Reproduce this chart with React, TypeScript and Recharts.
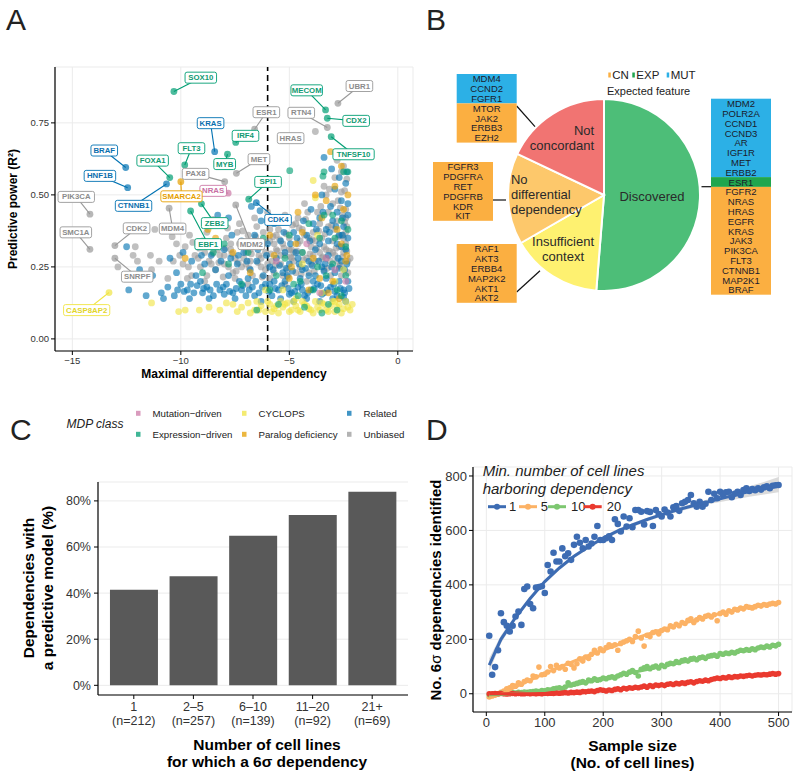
import React from 'react';
import {
  ScatterChart, Scatter, XAxis, YAxis, CartesianGrid, ReferenceLine,
  BarChart, Bar, PieChart, Pie, Cell,
} from 'recharts';

const FONT = '"Liberation Sans", Arial, Helvetica, sans-serif';
const MINUS = '\u2212';

// ---------------- Panel A data ----------------
const mdpClasses = [`Mutation${MINUS}driven`, `Expression${MINUS}driven`, 'CYCLOPS', 'Paralog deficiency', 'Related', 'Unbiased'];
const mdpColors = ['#CC79A7', '#009E73', '#F0E442', '#E69F00', '#0072B2', '#999999'];
const mdpTextColors = ['#C86FA3', '#109A72', '#E2D52A', '#E69F00', '#0B6FAE', '#8C8C8C'];
const dependencyCutoff = -6;

const relatedPts = [
  [-12.5,.32],[-11.9,.24],[-12.4,.17],[-11.3,.22],[-10.9,.16],[-10.6,.18],[-10.3,.15],[-10.0,.19],[-9.7,.17],[-9.4,.16],
  [-9.1,.20],[-8.8,.18],[-8.5,.15],[-8.2,.17],[-7.9,.19],[-7.6,.16],[-7.3,.20],[-7.0,.15],[-6.7,.18],[-6.4,.16],
  [-6.1,.19],[-5.8,.15],[-5.5,.17],[-5.2,.20],[-4.9,.16],[-4.6,.18],[-4.3,.15],[-4.0,.17],[-3.7,.19],[-3.4,.16],
  [-3.1,.18],[-2.8,.15],[-2.5,.17],[-2.3,.20],[-10.5,.28],[-9.9,.30],[-9.5,.27],[-9.2,.32],[-8.9,.26],[-8.6,.29],
  [-8.3,.43],[-8.0,.31],[-7.7,.28],[-7.8,.42],[-7.4,.26],[-7.1,.30],[-6.8,.24],[-6.5,.27],[-6.2,.22],[-5.9,.25],
  [-5.6,.28],[-5.3,.23],[-5.0,.26],[-4.7,.30],[-4.4,.24],[-4.1,.27],[-3.8,.22],[-3.5,.25],[-3.2,.29],[-2.9,.23],
  [-2.6,.27],[-2.4,.31],[-4.2,.36],[-3.9,.40],[-3.6,.42],[-3.3,.38],[-3.0,.41],[-2.7,.36],[-2.5,.39],[-2.3,.43],
  [-2.4,.54],[-3.4,.63],[-4.8,.37],[-5.4,.34],[-6.0,.33],[-6.6,.36],[-7.2,.34],[-3.6,.33],[-2.8,.33],[-2.3,.35],
  [-3.1,.46],[-2.6,.48],[-2.9,.52],[-5.7,.20],[-5.1,.22],[-4.5,.21],[-3.9,.20],[-3.3,.21],[-2.7,.20],[-4.8,.13],
  [-4.2,.14],[-3.6,.13],[-3.0,.14],[-2.4,.13],[-5.4,.14],[-6.3,.13],[-7.5,.14],[-8.7,.14],[-9.6,.14],[-10.8,.14],
  [-3.8,.31],[-3.2,.34],[-2.6,.32],[-4.6,.28],[-5.2,.30],[-6.9,.21],[-7.8,.22],[-8.4,.24],[-9.3,.22],[-10.2,.23],
  [-4.0,.45],[-3.5,.50],[-2.8,.44],[-6.3,.41],[-5.7,.40],[-4.4,.17],[-3.5,.155],[-2.9,.165],[-2.5,.145],[-5.0,.155],
  [-6.6,.15],[-7.2,.17],[-8.0,.155],[-9.0,.16],[-11.6,.15],[-4.1,.22],[-3.4,.235],[-2.7,.245],[-2.35,.26],[-5.9,.19],
  [-5.95,.165],[-5.65,.175],[-5.35,.185],[-5.05,.175],[-4.75,.165],[-4.45,.19],[-4.15,.16],[-3.85,.175],[-3.55,.185],[-3.25,.17],
  [-2.95,.19],[-2.65,.175],[-2.45,.16],[-2.25,.175],[-6.25,.18],[-6.55,.20],[-6.85,.17],[-7.15,.185],[-7.45,.175],[-7.75,.165],
  [-8.05,.18],[-8.35,.19],[-8.65,.17],[-8.95,.175],[-9.25,.185],[-9.55,.19],[-9.85,.165],[-10.15,.17],[-5.75,.24],[-5.45,.255],
  [-5.15,.245],[-4.85,.235],[-4.55,.26],[-4.25,.245],[-3.95,.255],[-3.65,.27],[-3.35,.26],[-3.05,.25],[-2.75,.28],[-2.45,.24],
  [-2.55,.36],[-2.85,.39],[-3.15,.37],[-3.45,.44],[-3.75,.38],[-4.05,.34],[-4.35,.41],[-4.65,.35],[-4.95,.33],[-5.25,.37],
  [-6.05,.29],[-6.45,.31],[-6.95,.27],[-7.35,.29],[-7.65,.36],[-8.15,.27],[-8.65,.33],[-9.05,.29],[-2.3,.47],[-2.55,.42],
  [-6.75,.46],[-6.35,.445],[-2.7,.56],[-3.05,.59],[-2.35,.58],
];

const unbiasedPts = [
  [-12.9,.25],[-12.1,.32],[-12.2,.29],[-12.0,.27],[-11.4,.29],[-11.2,.38],[-10.8,.38],[-11.35,.24],[-10.35,.27],[-10.05,.29],
  [-9.8,.32],[-9.9,.26],[-9.65,.25],[-9.35,.29],[-9.1,.25],[-9.5,.22],[-10.6,.21],[-11.0,.27],[-10.2,.33],[-8.9,.30],
  [-8.7,.27],[-8.5,.33],[-8.4,.24],[-8.2,.29],[-8.0,.26],[-7.9,.35],[-7.7,.31],[-7.6,.23],[-7.5,.28],[-7.3,.33],
  [-7.2,.25],[-7.0,.30],[-6.9,.36],[-6.8,.27],[-6.7,.22],[-6.5,.32],[-6.4,.29],[-6.3,.25],[-6.2,.37],[-6.1,.30],
  [-5.9,.34],[-5.8,.27],[-5.7,.23],[-5.6,.31],[-5.5,.38],[-5.4,.26],[-5.3,.33],[-5.2,.29],[-5.1,.24],[-5.0,.35],
  [-4.9,.31],[-4.8,.27],[-4.7,.40],[-4.6,.33],[-4.5,.25],[-4.4,.30],[-4.3,.36],[-4.2,.28],[-4.1,.23],[-4.0,.32],
  [-3.9,.37],[-3.8,.27],[-3.7,.44],[-3.6,.30],[-3.5,.35],[-3.4,.24],[-3.3,.31],[-3.2,.39],[-3.1,.27],[-3.0,.34],
  [-2.9,.29],[-2.8,.41],[-2.7,.25],[-2.6,.36],[-2.5,.30],[-2.4,.33],[-2.3,.27],[-2.2,.28],[-8.8,.22],[-8.3,.31],
  [-7.8,.25],[-7.4,.37],[-7.1,.28],[-6.6,.34],[-6.0,.26],[-5.6,.36],[-5.3,.22],[-4.9,.28],[-4.4,.38],[-4.0,.26],
  [-3.6,.40],[-3.3,.28],[-3.0,.30],[-2.7,.32],[-2.4,.37],[-2.6,.22],[-3.8,.34],[-4.7,.23],[-5.9,.21],[-6.8,.31],
  [-7.7,.33],[-8.6,.26],[-6.0,.44],[-5.5,.41],[-4.3,.47],[-3.4,.53],[-3.3,.50],[-2.9,.56],[-2.6,.58],[-2.5,.60],
  [-2.8,.62],[-2.6,.51],[-3.0,.47],[-2.4,.45],[-3.8,.72],[-2.4,.42],[-5.9,.38],[-6.5,.39],[-7.3,.40],[-8.1,.40],
  [-8.8,.37],[-6.9,.19],[-5.2,.19],[-4.2,.20],[-3.1,.22],[-2.3,.23],[-7.5,.21],[-8.9,.20],[-9.7,.21],[-5.0,.31],
  [-4.5,.34],[-3.9,.29],[-3.4,.32],[-2.9,.38],[-2.5,.35],[-6.3,.28],[-5.7,.33],[-7.0,.26],[-8.0,.29],[-9.2,.28],
  [-2.8,.27],[-3.5,.28],[-4.1,.35],[-4.8,.30],[-5.4,.29],[-6.1,.24],[-2.35,.39],[-2.55,.43],[-3.2,.44],[-4.6,.42],
  [-5.85,.295],[-5.55,.305],[-5.25,.315],[-4.95,.285],[-4.65,.305],[-4.35,.275],[-4.05,.295],[-3.75,.315],[-3.45,.285],[-3.15,.305],
  [-2.85,.315],[-2.55,.285],[-2.35,.305],[-6.15,.335],[-6.45,.265],[-6.75,.295],[-7.05,.325],[-7.35,.265],[-7.65,.295],[-7.95,.315],
  [-8.25,.265],[-8.55,.295],[-8.85,.325],[-9.15,.315],[-9.45,.335],[-5.75,.355],[-5.15,.365],[-4.55,.385],[-3.95,.345],[-3.35,.365],
  [-2.75,.355],[-2.45,.405],[-3.05,.395],[-3.65,.375],[-4.25,.415],[-4.85,.395],[-5.45,.345],[-6.55,.355],[-7.15,.375],[-7.85,.385],
  [-2.65,.255],[-3.25,.245],[-3.85,.235],[-4.45,.225],[-5.05,.215],[-5.65,.255],[-6.25,.215],[-6.85,.245],[-7.45,.235],[-8.05,.215],
  [-2.45,.515],[-2.75,.48],[-3.15,.52],[-2.35,.555],[-2.65,.455],[-3.55,.46],[-4.15,.44],[-5.2,.43],[-6.6,.42],[-9.0,.34],
  [-9.6,.36],[-10.4,.355],[-8.5,.415],
];

const cyclopsPts = [
  [-11.35,.125],[-10.1,.095],[-9.8,.10],[-9.15,.10],[-8.7,.11],[-8.2,.10],[-7.6,.12],[-7.2,.11],[-6.9,.125],[-6.6,.10],
  [-6.3,.115],[-6.1,.095],[-5.9,.12],[-5.7,.105],[-5.5,.09],[-5.3,.11],[-5.1,.125],[-4.9,.10],[-4.7,.115],[-4.5,.095],
  [-4.3,.12],[-4.1,.105],[-3.9,.09],[-3.7,.11],[-3.5,.125],[-3.3,.10],[-3.1,.115],[-2.9,.095],[-2.7,.12],[-2.5,.105],
  [-2.3,.11],[-2.1,.12],[-2.2,.10],[-2.4,.13],[-2.6,.09],[-2.8,.11],[-3.0,.13],[-3.2,.095],[-3.4,.12],[-3.6,.10],
  [-3.8,.13],[-4.0,.10],[-4.2,.115],[-4.4,.13],[-4.6,.10],[-4.8,.13],[-5.0,.095],[-5.2,.12],[-5.4,.13],[-5.6,.115],
  [-6.0,.13],[-6.4,.10],[-6.8,.09],[-7.4,.095],[-7.9,.125],[-3.5,.16],[-2.9,.20],[-3.8,.49],[-4.4,.26],[-5.3,.17],
  [-6.1,.17],[-2.5,.24],[-3.7,.36],[-3.9,.55],[-2.9,.13],[-4.7,.14],[-6.5,.13],[-5.8,.095],
];

const paralogPts = [
  [-3.1,.65],[-2.6,.60],[-3.3,.48],[-3.5,.42],[-2.5,.45],[-2.8,.38],[-4.4,.37],[-4.7,.33],[-3.9,.28],[-5.7,.29],
  [-6.3,.32],[-7.6,.30],[-8.4,.35],[-9.8,.28],[-2.4,.27],[-3.0,.20],[-5.0,.21],[-6.8,.23],[-4.1,.17],[-2.7,.14],
  [-8.75,.38],[-2.3,.50],[-4.6,.44],[-3.6,.21],[-2.9,.53],[-3.8,.50],[-2.6,.33],[-4.9,.25],[-3.2,.16],[-5.9,.36],
  [-2.35,.29],
];

const expressionPts = [
  [-4.98,.584],[-3.4,.58],[-2.5,.58],[-3.0,.43],[-2.4,.32],[-3.6,.35],[-4.4,.30],[-5.6,.22],[-6.9,.30],[-7.8,.26],
  [-4.8,.19],[-3.9,.17],[-3.2,.12],[-2.8,.10],[-4.3,.11],[-5.5,.12],[-6.5,.10],[-2.4,.22],[-3.7,.25],[-5.2,.28],
  [-6.2,.35],[-2.6,.15],[-4.1,.40],[-3.3,.22],[-5.9,.17],[-7.2,.19],[-8.5,.30],[-2.9,.35],[-4.6,.15],[-3.5,.09],
  [-2.3,.38],[-9.0,.23],[-8.0,.33],[-3.4,.43],[-2.6,.41],[-3.0,.26],[-4.5,.20],[-2.3,.58],[-3.45,.565],[-2.8,.17],
  [-5.0,.36],
];

const mutationPts = [
  [-3.3,.28],[-2.9,.24],[-2.4,.20],[-4.2,.33],[-3.6,.16],[-5.6,.27],
];

// [gene, class index, point x, point y, label x, label y]
const labeledGenes: [string, number, number, number, number, number][] = [
  ['SOX10', 1, -10.32, 0.859, -9.08, 0.907],
  ['UBR1', 5, -2.76, 0.818, -1.77, 0.878],
  ['MECOM', 1, -3.33, 0.795, -4.20, 0.863],
  ['ESR1', 5, -6.60, 0.728, -6.06, 0.787],
  ['RTN4', 5, -3.25, 0.734, -4.45, 0.785],
  ['CDX2', 1, -3.25, 0.766, -1.92, 0.757],
  ['KRAS', 4, -8.44, 0.650, -8.63, 0.749],
  ['IRF4', 1, -7.47, 0.682, -7.02, 0.705],
  ['HRAS', 5, -4.94, 0.697, -4.94, 0.697],
  ['BRAF', 4, -12.54, 0.595, -13.53, 0.654],
  ['FLT3', 1, -9.82, 0.604, -9.51, 0.662],
  ['TNFSF10', 1, -3.07, 0.702, -2.04, 0.641],
  ['FOXA1', 1, -10.51, 0.560, -11.30, 0.619],
  ['MYB', 1, -7.85, 0.641, -7.98, 0.607],
  ['MET', 5, -7.44, 0.575, -6.40, 0.624],
  ['HNF1B', 4, -12.45, 0.525, -13.73, 0.566],
  ['PAX8', 5, -7.98, 0.546, -9.32, 0.573],
  ['SPI1', 1, -6.87, 0.485, -5.98, 0.545],
  ['NRAS', 0, -7.82, 0.506, -8.51, 0.514],
  ['PIK3CA', 5, -14.19, 0.433, -14.82, 0.493],
  ['SMARCA2', 3, -10.0, 0.546, -9.97, 0.495],
  ['CTNNB1', 4, -10.66, 0.538, -12.18, 0.462],
  ['CDK4', 4, -6.52, 0.473, -5.52, 0.413],
  ['ZEB2', 1, -9.05, 0.469, -8.44, 0.402],
  ['SMC1A', 5, -14.19, 0.311, -14.84, 0.370],
  ['CDK2', 5, -13.04, 0.324, -12.04, 0.384],
  ['MDM4', 5, -10.54, 0.454, -10.38, 0.383],
  ['EBF1', 1, -9.55, 0.444, -8.74, 0.329],
  ['MDM2', 5, -7.47, 0.465, -6.75, 0.329],
  ['SNRPF', 5, -13.04, 0.280, -12.01, 0.216],
  ['CASP8AP2', 2, -13.31, 0.161, -14.34, 0.100],
];

// ---------------- Panel B data ----------------
const pieNames = ['Discovered', 'Insufficient context', 'No differential dependency', 'Not concordant'];
const pieCounts = [20, 6, 6, 7];
const pieColors = ['#4DBE78', '#FEF170', '#FDC86B', '#F17472'];
const pieLabelLines = [['Discovered'], ['Insufficient', 'context'], ['No', 'differential', 'dependency'], ['Not', 'concordant']];
const featureNames = ['CN', 'EXP', 'MUT'];
const featureColors = ['#FBAF41', '#20A64E', '#2CB0E6'];

const notConcordantMut = ['MDM4', 'CCND2', 'FGFR1'];
const notConcordantCn = ['MTOR', 'JAK2', 'ERBB3', 'EZH2'];
const noDiffCn = ['FGFR3', 'PDGFRA', 'RET', 'PDGFRB', 'KDR', 'KIT'];
const insufficientCn = ['RAF1', 'AKT3', 'ERBB4', 'MAP2K2', 'AKT1', 'AKT2'];
const discoveredMut = ['MDM2', 'POLR2A', 'CCND1', 'CCND3', 'AR', 'IGF1R', 'MET', 'ERBB2'];
const discoveredExp = ['ESR1'];
const discoveredCn = ['FGFR2', 'NRAS', 'HRAS', 'EGFR', 'KRAS', 'JAK3', 'PIK3CA', 'FLT3', 'CTNNB1', 'MAP2K1', 'BRAF'];

// ---------------- Panel C data ----------------
const cellLineBins = ['1', '2\u20135', '6\u201310', '11\u201320', '21+'];
const binCounts = ['n=212', 'n=257', 'n=139', 'n=92', 'n=69'];
const pctPredictive = [41.5, 47.3, 64.9, 73.9, 84.0];

// ---------------- Panel D data ----------------
const sampleSizes = [
  5, 10, 15, 20, 25, 30, 35, 40, 45, 50, 55, 60, 65, 70, 75, 80, 85, 90, 95, 100,
  105, 110, 115, 120, 125, 130, 135, 140, 145, 150, 155, 160, 165, 170, 175, 180, 185, 190, 195, 200,
  205, 210, 215, 220, 225, 230, 235, 240, 245, 250, 255, 260, 265, 270, 275, 280, 285, 290, 295, 300,
  305, 310, 315, 320, 325, 330, 335, 340, 345, 350, 355, 360, 365, 370, 375, 380, 385, 390, 395, 400,
  405, 410, 415, 420, 425, 430, 435, 440, 445, 450, 455, 460, 465, 470, 475, 480, 485, 490, 495, 500,
];
const min1Counts = [
  213, 70, 98, 160, 296, 263, 250, 229, 250, 284, 302, 253, 385, 394, 330, 314, 390, 392, 395, 370,
  473, 449, 518, 486, 486, 534, 505, 516, 492, 547, 577, 555, 534, 565, 541, 552, 577, 616, 565, 565,
  571, 578, 565, 641, 624, 596, 651, 614, 645, 612, 675, 675, 669, 622, 671, 668, 616, 675, 660, 651,
  677, 666, 651, 685, 690, 672, 700, 705, 712, 730, 700, 687, 705, 687, 698, 742, 712, 735, 718, 742,
  730, 740, 742, 722, 735, 742, 730, 748, 755, 745, 752, 748, 755, 750, 758, 762, 755, 764, 766, 767,
];
const min5Counts = [
  -12, -8, -5, 0, 5, 10, 18, 22, 30, 28, 40, 35, 45, 50, 48, 65, 62, 98, 70, 72,
  80, 100, 85, 105, 95, 100, 90, 112, 108, 95, 110, 128, 120, 135, 130, 145, 160, 150, 165, 158,
  170, 180, 175, 180, 160, 185, 190, 195, 200, 192, 210, 230, 205, 175, 215, 210, 225, 228, 220, 232,
  238, 235, 250, 245, 255, 250, 262, 258, 270, 275, 262, 272, 280, 275, 285, 288, 282, 290, 268, 295,
  300, 292, 305, 300, 310, 308, 315, 312, 320, 318, 315, 320, 325, 322, 328, 325, 330, 332, 330, 335,
];
const min10Counts = [
  -3, -2, 0, 0, 2, 1, 3, 2, 4, 3, 5, 4, 6, 5, 7, 8, 10, 8, 12, 11,
  15, 14, 18, 20, 22, 18, 25, 40, 32, 35, 38, 42, 45, 40, 50, 48, 55, 50, 52, 58,
  55, 60, 62, 58, 65, 70, 75, 72, 80, 85, 78, 65, 90, 95, 100, 92, 98, 102, 95, 105,
  100, 108, 112, 110, 118, 115, 122, 125, 120, 128, 130, 125, 132, 135, 130, 138, 140, 142, 138, 148,
  145, 150, 148, 152, 150, 155, 160, 158, 162, 160, 165, 162, 168, 172, 170, 175, 172, 178, 176, 182,
];
const min20Counts = [
  0, 0, 1, 0, 1, 0, -1, 0, 1, 0, 1, 0, 0, 1, 0, 1, 0, 1, 0, 2,
  1, 2, 1, 3, 2, 3, 4, 3, 5, 4, 6, 5, 8, 7, 9, 10, 8, 12, 15, 13,
  10, 14, 12, 16, 18, 15, 20, 18, 22, 20, 24, 22, 25, 28, 24, 30, 27, 32, 30, 33,
  30, 35, 37, 34, 38, 36, 40, 38, 42, 44, 40, 45, 48, 46, 50, 48, 52, 55, 58, 56,
  60, 58, 62, 60, 63, 62, 65, 64, 66, 68, 65, 68, 70, 69, 71, 70, 72, 74, 72, 74,
];
const fitSizes = [5, 25, 50, 75, 100, 125, 150, 175, 200, 225, 250, 275, 300, 325, 350, 375, 400, 425, 450, 475, 500];
const min1Fit = [105, 200, 280, 350, 412, 462, 505, 540, 572, 598, 620, 640, 658, 674, 689, 703, 716, 730, 743, 755, 768];
const min1FitLo = [80, 186, 271, 342, 405, 455, 498, 533, 565, 591, 613, 633, 651, 667, 681, 694, 704, 714, 724, 732, 740];
const min1FitHi = [130, 214, 289, 358, 419, 469, 512, 547, 579, 605, 627, 647, 665, 681, 697, 712, 728, 746, 762, 778, 796];
const min5Fit = [-12, -2, 25, 50, 75, 98, 120, 141, 160, 180, 200, 218, 235, 251, 266, 281, 295, 308, 319, 328, 335];
const min10Fit = [-4, -3, 2, 6, 12, 20, 32, 43, 55, 66, 78, 89, 100, 111, 122, 133, 143, 153, 162, 171, 180];
const min20Fit = [0, 0, 0, 0, 1, 2, 5, 8, 12, 17, 22, 28, 33, 39, 44, 50, 56, 61, 66, 70, 74];
const thresholdNames = ['1', '5', '10', '20'];
const thresholdColors = ['#3D6CB3', '#FCB265', '#7DC770', '#EA3A2F'];

// ---------------- helpers ----------------
const toXY = (arr: number[][]) => arr.map(([x, y]) => ({ x, y }));
const Empty = () => <g />;
const dot = (color: string, r: number, op: number) => (p: any) => (
  <circle cx={p.cx} cy={p.cy} r={r} fill={color} fillOpacity={op} />
);

function GeneLabel(p: any) {
  const { cx, cy, payload } = p;
  const g: string = payload.gene;
  const c: number = payload.c;
  const w = g.length * 4.9 + 7;
  const h = 11;
  return (
    <g>
      <rect x={cx - w / 2} y={cy - h / 2} width={w} height={h} rx={2} ry={2} fill="#fff" stroke={mdpColors[c]} strokeWidth={0.9} />
      <text x={cx} y={cy} textAnchor="middle" dominantBaseline="central" fontSize={7.8} fontWeight="bold" fill={mdpTextColors[c]}>{g}</text>
    </g>
  );
}

const axisLineStyle = { stroke: '#000', strokeWidth: 1.2 };
const tickLineStyle = { stroke: '#000', strokeWidth: 1 };

function PanelA() {
  const groups = [
    { pts: unbiasedPts, c: 5 },
    { pts: relatedPts, c: 4 },
    { pts: cyclopsPts, c: 2 },
    { pts: paralogPts, c: 3 },
    { pts: expressionPts, c: 1 },
    { pts: mutationPts, c: 0 },
  ];
  const labeledPoints = labeledGenes.map(([gene, c, x, y]) => ({ gene, c, x, y }));
  const labelBoxes = labeledGenes.map(([gene, c, , , lx, ly]) => ({ gene, c, x: lx, y: ly }));
  return (
    <ScatterChart width={420} height={380} margin={{ top: 67, right: 7, bottom: 9, left: 0 }}>
      <CartesianGrid stroke="#EBEBEB" />
      <XAxis type="number" dataKey="x" domain={[-15.8, 0.7]} ticks={[-15, -10, -5, 0]} allowDataOverflow
        height={20} tickSize={4} axisLine={axisLineStyle} tickLine={tickLineStyle}
        tick={{ fontSize: 9.5, fill: '#333' }} tickFormatter={(v: number) => String(v).replace('-', MINUS)} />
      <YAxis type="number" dataKey="y" domain={[-0.042, 0.944]} ticks={[0, 0.25, 0.5, 0.75]} allowDataOverflow
        width={55} tickSize={4} axisLine={axisLineStyle} tickLine={tickLineStyle}
        tick={{ fontSize: 9.5, fill: '#333' }} tickFormatter={(v: number) => v.toFixed(2)} />
      {groups.map((g, i) => (
        <Scatter key={'g' + i} data={toXY(g.pts)} fill={mdpColors[g.c]} shape={dot(mdpColors[g.c], 3.4, 0.62)} isAnimationActive={false} />
      ))}
      <Scatter data={labeledPoints} fill="#999" isAnimationActive={false}
        shape={(p: any) => <circle cx={p.cx} cy={p.cy} r={3.4} fill={mdpColors[p.payload.c]} fillOpacity={0.7} />} />
      <ReferenceLine x={dependencyCutoff} stroke="#000" strokeWidth={1.6} strokeDasharray="6 4" />
      {labeledGenes.map(([gene, c, x, y, lx, ly]) => (
        <Scatter key={'s' + gene} data={[{ x, y }, { x: lx, y: ly }]} fill={mdpColors[c]}
          line={{ stroke: mdpColors[c], strokeWidth: 1.1 }} lineType="joint" shape={Empty} isAnimationActive={false} />
      ))}
      <Scatter data={labelBoxes} fill="#fff" shape={GeneLabel} isAnimationActive={false} />
    </ScatterChart>
  );
}

function PanelB() {
  const data = pieNames.map((name, i) => ({ name, value: pieCounts[i] }));
  const cfg = [
    { r: 0.5, anchor: 'middle', dx: 0, dy: 0 },
    { r: 0.7, anchor: 'middle', dx: -5, dy: -3 },
    { r: 0.97, anchor: 'start', dx: 0, dy: -4.5 },
    { r: 0.68, anchor: 'end', dx: 25, dy: -2 },
  ];
  const RAD = Math.PI / 180;
  const renderLabel = (p: any) => {
    const { cx, cy, midAngle, outerRadius, index } = p;
    const c = cfg[index];
    const rr = outerRadius * c.r;
    const x = cx + rr * Math.cos(-midAngle * RAD) + c.dx;
    const y = cy + rr * Math.sin(-midAngle * RAD) + c.dy;
    const lines = pieLabelLines[index];
    return (
      <g>
        {lines.map((t, i) => (
          <text key={t} x={x} y={y + (i - (lines.length - 1) / 2) * 14.8} textAnchor={c.anchor}
            dominantBaseline="central" fontSize={13} fill="#2a2a2a">{t}</text>
        ))}
      </g>
    );
  };
  return (
    <PieChart width={380} height={330} margin={{ top: 0, right: 0, bottom: 0, left: 0 }}>
      <Pie data={data} dataKey="value" nameKey="name" cx={184} cy={195} outerRadius={96}
        startAngle={90} endAngle={-270} stroke="#fff" strokeWidth={2}
        isAnimationActive={false} label={renderLabel} labelLine={false}>
        {data.map((d, i) => <Cell key={d.name} fill={pieColors[i]} />)}
      </Pie>
    </PieChart>
  );
}

function BinTick(p: any) {
  const { x, y, payload } = p;
  const idx = cellLineBins.indexOf(payload.value);
  return (
    <g>
      <text x={x} y={y + 10} textAnchor="middle" fontSize={12.5} fill="#333">{payload.value}</text>
      <text x={x} y={y + 24} textAnchor="middle" fontSize={12.5} fill="#333">({binCounts[idx]})</text>
    </g>
  );
}

function PanelC() {
  const data = cellLineBins.map((bin, i) => ({ bin, pct: pctPredictive[i] }));
  return (
    <BarChart width={420} height={318} data={data} margin={{ top: 22, right: 12, bottom: 48, left: 0 }} barCategoryGap="10%">
      <CartesianGrid stroke="#EBEBEB" vertical={false} />
      <XAxis dataKey="bin" height={35} tickSize={4} axisLine={axisLineStyle} tickLine={tickLineStyle}
        padding={{ left: 6, right: 6 }} tick={<BinTick />} interval={0} />
      <YAxis type="number" domain={[-4.2, 88.2]} ticks={[0, 20, 40, 60, 80]} allowDataOverflow width={98}
        tickSize={4} tickMargin={3} axisLine={axisLineStyle} tickLine={tickLineStyle}
        tick={{ fontSize: 12.5, fill: '#333' }} tickFormatter={(v: number) => `${v}%`} />
      <Bar dataKey="pct" fill="#595959" isAnimationActive={false} />
    </BarChart>
  );
}

function PanelD() {
  const series = [min1Counts, min5Counts, min10Counts, min20Counts];
  const fits = [min1Fit, min5Fit, min10Fit, min20Fit];
  const band = [
    ...fitSizes.map((x, i) => ({ x, y: min1FitHi[i] })),
    ...fitSizes.map((x, i) => ({ x, y: min1FitLo[i] })).reverse(),
  ];
  return (
    <ScatterChart width={380} height={338} margin={{ top: 27, right: 8, bottom: 46, left: 0 }}>
      <CartesianGrid stroke="#EBEBEB" />
      <XAxis type="number" dataKey="x" domain={[-22.8, 523]} ticks={[0, 100, 200, 300, 400, 500]} allowDataOverflow
        height={20} tickSize={4} axisLine={axisLineStyle} tickLine={tickLineStyle} tick={{ fontSize: 13, fill: '#333' }} />
      <YAxis type="number" dataKey="y" domain={[-67, 833]} ticks={[0, 200, 400, 600, 800]} allowDataOverflow
        width={53} tickSize={4} axisLine={axisLineStyle} tickLine={tickLineStyle} tick={{ fontSize: 13, fill: '#333' }} />
      <Scatter data={band} fill="#BDBDBD" line={{ fill: '#BDBDBD', fillOpacity: 0.55, stroke: 'none' }}
        lineType="joint" shape={Empty} isAnimationActive={false} />
      {series.map((s, k) => (
        <Scatter key={'d' + k} data={sampleSizes.map((x, i) => ({ x, y: s[i] }))} fill={thresholdColors[k]}
          shape={dot(thresholdColors[k], k === 0 ? 3.3 : 2.8, 1)} isAnimationActive={false} />
      ))}
      {fits.map((f, k) => (
        <Scatter key={'f' + k} data={fitSizes.map((x, i) => ({ x, y: f[i] }))} fill={thresholdColors[k]}
          line={{ stroke: thresholdColors[k], strokeWidth: 3 }} lineType="joint" shape={Empty} isAnimationActive={false} />
      ))}
    </ScatterChart>
  );
}

function GeneBox({ x, y, groups }: { x: number; y: number; groups: [string[], string][] }) {
  const ROW = 9.8;
  const W = 60;
  let row = 0;
  const out: any[] = [];
  groups.forEach(([genes, color], gi) => {
    out.push(<rect key={'r' + gi} x={x} y={y + row * ROW} width={W} height={genes.length * ROW} fill={color} />);
    genes.forEach((g, i) => {
      out.push(
        <text key={g} x={x + W / 2} y={y + (row + i + 0.5) * ROW} textAnchor="middle" dominantBaseline="central"
          fontSize={9.5} fill="#1b1b2b">{g}</text>
      );
    });
    row += genes.length;
  });
  return <g>{out}</g>;
}

function Overlay() {
  const legendCols = [138, 244, 349];
  const legendRows = [413.3, 434.3];
  const dLegendX = [[488, 506, 509], [519, 537, 540.7], [548, 566, 571], [583.6, 601.7, 606.7]];
  return (
    <svg width={800} height={778} style={{ position: 'absolute', left: 0, top: 0, pointerEvents: 'none' }}>
      <text x={6} y={30} fontSize={30} fill="#222">A</text>
      <text x={426} y={30} fontSize={30} fill="#222">B</text>
      <text x={10} y={440} fontSize={30} fill="#222">C</text>
      <text x={426} y={440} fontSize={30} fill="#222">D</text>

      <text x={234} y={378} textAnchor="middle" fontSize={12} fontWeight="bold" fill="#000">Maximal differential dependency</text>
      <text x={13} y={209} transform="rotate(-90 13 209)" textAnchor="middle" dominantBaseline="central" fontSize={12} fontWeight="bold" fill="#000">Predictive power (R²)</text>

      <text x={66.5} y={424} dominantBaseline="central" fontSize={12} fontStyle="italic" fill="#222">MDP class</text>
      {mdpClasses.map((name, i) => {
        const col = Math.floor(i / 2);
        const row = i % 2;
        return (
          <g key={name}>
            <rect x={legendCols[col] - 2} y={legendRows[row] - 2.5} width={4.5} height={5} fill={mdpColors[i]} fillOpacity={0.75} />
            <text x={legendCols[col] + 14.5} y={legendRows[row]} dominantBaseline="central" fontSize={9.7} fill="#222">{name}</text>
          </g>
        );
      })}

      {featureNames.map((f, i) => {
        const sx = [608.3, 632.3, 666.7][i];
        return (
          <g key={f}>
            <rect x={sx} y={72.5} width={2.5} height={5} fill={featureColors[i]} />
            <text x={sx + 4} y={75} dominantBaseline="central" fontSize={11.5} fill="#222">{f}</text>
          </g>
        );
      })}
      <text x={607} y={91} dominantBaseline="central" fontSize={11} fill="#222">Expected feature</text>

      <line x1={516.7} y1={106} x2={535} y2={126.7} stroke="#111" strokeWidth={1.2} />
      <line x1={492.7} y1={200} x2={506} y2={200} stroke="#111" strokeWidth={1.2} />
      <line x1={516.7} y1={292} x2={540} y2={270.7} stroke="#111" strokeWidth={1.2} />
      <line x1={701.5} y1={186.7} x2={711} y2={186.7} stroke="#111" strokeWidth={1.2} />
      <GeneBox x={456.7} y={74} groups={[[notConcordantMut, featureColors[2]], [notConcordantCn, featureColors[0]]]} />
      <GeneBox x={433} y={162} groups={[[noDiffCn, featureColors[0]]]} />
      <GeneBox x={456.7} y={244} groups={[[insufficientCn, featureColors[0]]]} />
      <GeneBox x={711} y={98.7} groups={[[discoveredMut, featureColors[2]], [discoveredExp, featureColors[1]], [discoveredCn, featureColors[0]]]} />

      <text x={28} y={588} transform="rotate(-90 28 588)" textAnchor="middle" dominantBaseline="central" fontSize={15.5} fontWeight="bold" fill="#000">Dependencies with</text>
      <text x={47} y={588} transform="rotate(-90 47 588)" textAnchor="middle" dominantBaseline="central" fontSize={15.5} fontWeight="bold" fill="#000">a predictive model (%)</text>
      <text x={267} y={744} textAnchor="middle" dominantBaseline="central" fontSize={15.5} fontWeight="bold" fill="#000">Number of cell lines</text>
      <text x={267} y={761.7} textAnchor="middle" dominantBaseline="central" fontSize={15.5} fontWeight="bold" fill="#000">for which a 6σ dependency</text>

      <text x={632.5} y={745.7} textAnchor="middle" dominantBaseline="central" fontSize={15.5} fontWeight="bold" fill="#000">Sample size</text>
      <text x={632.5} y={762.7} textAnchor="middle" dominantBaseline="central" fontSize={15.5} fontWeight="bold" fill="#000">(No. of cell lines)</text>
      <text x={435} y={590} transform="rotate(-90 435 590)" textAnchor="middle" dominantBaseline="central" fontSize={15} fontWeight="bold" fill="#000">
        No. 6<tspan fontWeight="normal">σ</tspan> depenedncies identified
      </text>

      <text x={482.7} y={470.7} dominantBaseline="central" fontSize={15} fontStyle="italic" fill="#222">Min. number of cell lines</text>
      <text x={482.7} y={488.3} dominantBaseline="central" fontSize={15} fontStyle="italic" fill="#222">harboring dependency</text>
      {thresholdNames.map((t, i) => {
        const [a, b, tx] = dLegendX[i];
        return (
          <g key={t}>
            <line x1={a} y1={506.7} x2={b} y2={506.7} stroke={thresholdColors[i]} strokeWidth={3} />
            <circle cx={(a + b) / 2} cy={506.7} r={3} fill={thresholdColors[i]} />
            <text x={tx} y={506.7} dominantBaseline="central" fontSize={13} fill="#222">{t}</text>
          </g>
        );
      })}
    </svg>
  );
}

export default function App() {
  return (
    <div style={{ position: 'absolute', left: 0, top: 0, width: 800, height: 778, background: '#fff', fontFamily: FONT, overflow: 'hidden' }}>
      <div style={{ position: 'absolute', left: 0, top: 0 }}><PanelA /></div>
      <div style={{ position: 'absolute', left: 420, top: 0 }}><PanelB /></div>
      <div style={{ position: 'absolute', left: 0, top: 460 }}><PanelC /></div>
      <div style={{ position: 'absolute', left: 420, top: 440 }}><PanelD /></div>
      <Overlay />
    </div>
  );
}
